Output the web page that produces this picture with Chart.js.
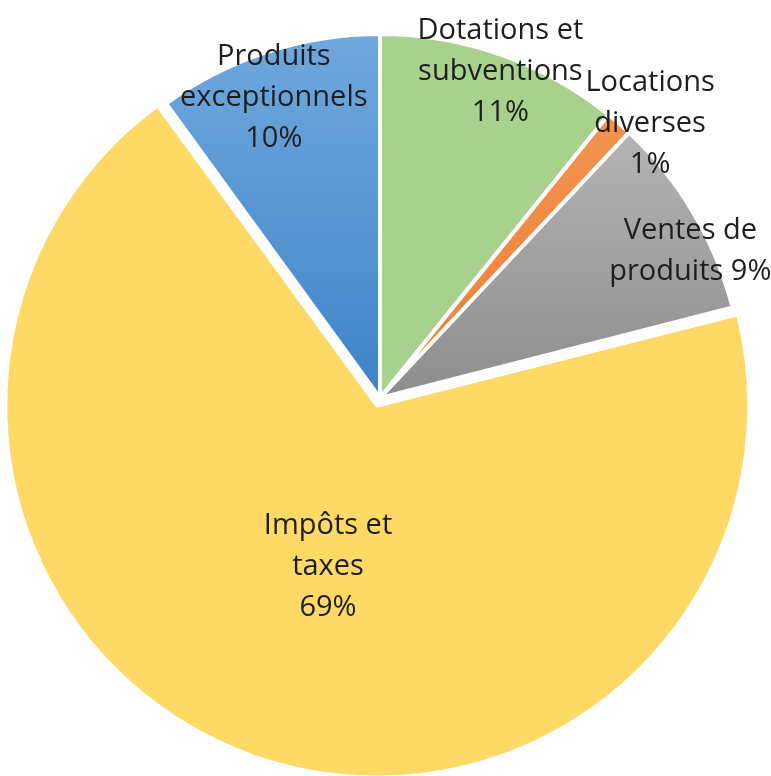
<!DOCTYPE html>
<html>
<head>
<meta charset="utf-8">
<script src="https://cdn.jsdelivr.net/npm/chart.js@4/dist/chart.umd.min.js"></script>
<style>
  html, body { margin: 0; padding: 0; background: #fff; overflow: hidden; }
  #wrap { position: relative; width: 771px; height: 776px; }
</style>
</head>
<body>
<div id="wrap"><canvas id="pie"></canvas></div>
<script>
// slices, clockwise from 12 o'clock
const categories = [
  ['Dotations et', 'subventions'],
  ['Locations', 'diverses'],
  ['Ventes de', 'produits'],
  ['Impôts et', 'taxes'],
  ['Produits', 'exceptionnels']
];
const values = [10.8, 1.2, 9.0, 69.0, 10.0];

// label placement: radial factor and small turn (degrees) from slice middle
const labelRadius = [0.956, 1.058, 0.943, 0.44, 0.874];
const labelTurn = [0.8, 3.5, 5.3, -2.9, -1.5];
const pctInline = [false, false, true, false, false];
const explode = [0, 0, 0, 32, 0];

const R = 364;

function vGrad(chart, top, bottom) {
  const a = chart.chartArea;
  if (!a) return bottom;
  const cy = (a.top + a.bottom) / 2;
  const g = chart.ctx.createLinearGradient(0, cy - R, 0, cy);
  g.addColorStop(0, top);
  g.addColorStop(1, bottom);
  return g;
}

const fills = [
  c => '#A9D18E',
  c => vGrad(c, '#F39A5A', '#EE7E33'),
  c => vGrad(c, '#C2C2C2', '#8D8D8D'),
  c => '#FFD966',
  c => vGrad(c, '#70A8DE', '#3E84C7')
];

const labelPlugin = {
  id: 'sliceLabels',
  afterDatasetsDraw(chart) {
    const ctx = chart.ctx;
    const meta = chart.getDatasetMeta(0);
    const total = values.reduce((s, v) => s + v, 0);
    ctx.save();
    ctx.font = '29px "Open Sans"';
    ctx.fillStyle = '#1e1e1e';
    ctx.textAlign = 'center';
    ctx.textBaseline = 'middle';
    meta.data.forEach((arc, i) => {
      const p = arc.getProps(['x', 'y', 'startAngle', 'endAngle', 'outerRadius', 'circumference'], true);
      const half = (p.startAngle + p.endAngle) / 2;
      // same shift the arc gets from its offset
      const fix = 1 - Math.sin(Math.min(Math.PI, p.circumference));
      const shift = explode[i] / 4 * (1 + fix);
      const ox = p.x + Math.cos(half) * shift;
      const oy = p.y + Math.sin(half) * shift;
      const ang = half + labelTurn[i] * Math.PI / 180;
      const lx = ox + Math.cos(ang) * p.outerRadius * labelRadius[i];
      const ly = oy + Math.sin(ang) * p.outerRadius * labelRadius[i];
      const pct = Math.round(values[i] / total * 100) + '%';
      const lines = categories[i].slice();
      if (pctInline[i]) lines[lines.length - 1] += ' ' + pct;
      else lines.push(pct);
      const lh = 41;
      const y0 = ly - (lines.length - 1) * lh / 2;
      lines.forEach((t, k) => ctx.fillText(t, lx, y0 + k * lh));
    });
    ctx.restore();
  }
};

new Chart(document.getElementById('pie'), {
  type: 'pie',
  data: {
    labels: categories.map(l => l.join(' ')),
    datasets: [{
      data: values,
      backgroundColor: ctx => fills[ctx.dataIndex](ctx.chart),
      borderColor: '#ffffff',
      borderWidth: 4,
      offset: explode,
      hoverOffset: 0,
      radius: R
    }]
  },
  options: {
    responsive: true,
    maintainAspectRatio: false,
    animation: false,
    events: [],
    layout: { padding: { left: 0, right: 11, top: 20, bottom: 0 } },
    plugins: {
      legend: { display: false },
      tooltip: { enabled: false }
    }
  },
  plugins: [labelPlugin]
});
</script>
</body>
</html>
